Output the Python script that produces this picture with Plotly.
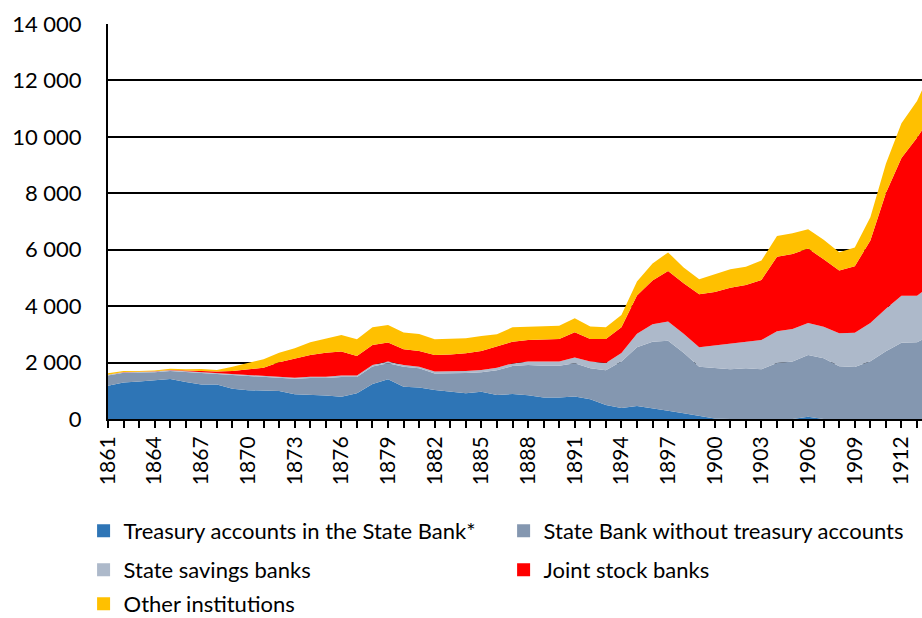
import plotly.graph_objects as go

years = list(range(1861, 1915))

treasury = [1180, 1290, 1325, 1360, 1420, 1310, 1220, 1220, 1075, 1020,
            1005, 995, 875, 865, 830, 790, 910, 1240, 1410, 1145,
            1115, 1030, 970, 915, 970, 850, 885, 845, 765, 765,
            800, 700, 495, 390, 465, 365, 290, 200, 100, 20,
            0, 0, 0, 0, 0, 80, 0, 0, 0, 0,
            0, 0, 0, 0]

state_bank = [360, 350, 325, 300, 280, 355, 420, 370, 475, 495,
              485, 470, 550, 590, 625, 700, 575, 620, 565, 705,
              680, 585, 640, 715, 690, 880, 995, 1070, 1125, 1120,
              1175, 1100, 1235, 1645, 2075, 2375, 2485, 2150, 1750, 1790,
              1760, 1795, 1760, 1985, 2035, 2190, 2150, 1870, 1845, 2050,
              2400, 2705, 2720, 3000]

savings = [30, 20, 20, 20, 25, 25, 25, 30, 35, 35,
           35, 35, 40, 45, 45, 50, 55, 55, 60, 60,
           60, 65, 70, 75, 80, 90, 90, 125, 145, 150,
           205, 240, 255, 305, 480, 620, 685, 670, 690, 800,
           895, 945, 1040, 1125, 1155, 1130, 1120, 1170, 1215, 1350,
           1510, 1660, 1645, 1800]

joint_stock = [0, 5, 5, 10, 15, 30, 45, 60, 115, 210,
               295, 510, 665, 770, 850, 850, 695, 710, 675, 560,
               555, 590, 610, 625, 670, 745, 770, 760, 790, 800,
               895, 795, 850, 910, 1360, 1550, 1790, 1790, 1880, 1890,
               1995, 2010, 2130, 2645, 2655, 2640, 2390, 2220, 2350, 2930,
               4100, 4885, 5605, 6000]

other = [50, 40, 30, 25, 45, 45, 65, 60, 155, 215,
         295, 340, 375, 450, 510, 590, 590, 625, 620, 600,
         605, 560, 550, 530, 535, 435, 510, 475, 475, 470,
         495, 440, 415, 440, 490, 600, 655, 560, 535, 620,
         660, 650, 685, 735, 740, 685, 690, 650, 670, 820,
         1040, 1235, 1300, 1650]

series_names = ["Treasury accounts in the State Bank*",
                "State Bank without treasury accounts",
                "State savings banks",
                "Joint stock banks",
                "Other institutions"]
series_values = [treasury, state_bank, savings, joint_stock, other]
colors = ["#2E75B6", "#8497B0", "#ADB9CA", "#FF0000", "#FFC000"]

tick_years = list(range(1861, 1913, 3))
y_ticks = list(range(0, 14001, 2000))

FONT = "Lato"
fig = go.Figure()

for name, vals, col in zip(series_names, series_values, colors):
    fig.add_trace(go.Scatter(
        x=years, y=vals, name=name, mode="lines",
        stackgroup="one", line=dict(width=0, color=col),
        fillcolor=col, showlegend=False, hoverinfo="x+y+name"))

# legend-only entries (square swatches), one legend per entry
legend_pos = [(-0.03, -0.2835), (0.486, -0.2835),
              (-0.03, -0.3823), (0.486, -0.3823),
              (-0.03, -0.4684)]
legend_ids = ["legend", "legend2", "legend3", "legend4", "legend5"]
for name, col, lid in zip(series_names, colors, legend_ids):
    fig.add_trace(go.Scatter(
        x=[None], y=[None], mode="markers", name=name,
        marker=dict(symbol="square", size=13, color=col),
        legend=lid, showlegend=True))

layout_legends = {}
for (lx, ly), lid in zip(legend_pos, legend_ids):
    layout_legends[lid] = dict(
        x=lx, y=ly, xanchor="left", yanchor="middle",
        orientation="h", bgcolor="rgba(0,0,0,0)",
        font=dict(family=FONT, size=22, color="black"),
        itemwidth=30)

fig.update_layout(
    width=922, height=618,
    template="none",
    paper_bgcolor="white", plot_bgcolor="white",
    separators=". ",
    margin=dict(l=108, r=0, t=24, b=199, autoexpand=False),
    font=dict(family=FONT, size=20, color="black"),
    hovermode="x unified",
    **layout_legends,
)

fig.update_xaxes(
    range=[1861, 1913.32],
    tickmode="array", tickvals=tick_years,
    ticktext=[str(y) for y in tick_years],
    tickangle=-90,
    tickfont=dict(family=FONT, size=21, color="black"),
    ticks="outside", ticklen=7, tickwidth=2, tickcolor="black",
    minor=dict(dtick=1, tick0=1861, ticks="outside", ticklen=7,
               tickwidth=2, tickcolor="black", showgrid=False),
    showline=True, linecolor="black", linewidth=2,
    showgrid=False, zeroline=False,
)

fig.update_yaxes(
    range=[0, 14000],
    tickmode="array", tickvals=y_ticks,
    tickformat=",d",
    tickfont=dict(family=FONT, size=22, color="black"),
    ticks="", ticklabelstandoff=20,
    showline=True, linecolor="black", linewidth=2,
    showgrid=True, gridcolor="black", gridwidth=2,
    zeroline=False,
)

fig.write_html("out.html",
               config={"displayModeBar": False},
               post_script="document.body.style.margin='0';"
                           "document.body.style.overflow='hidden';")
